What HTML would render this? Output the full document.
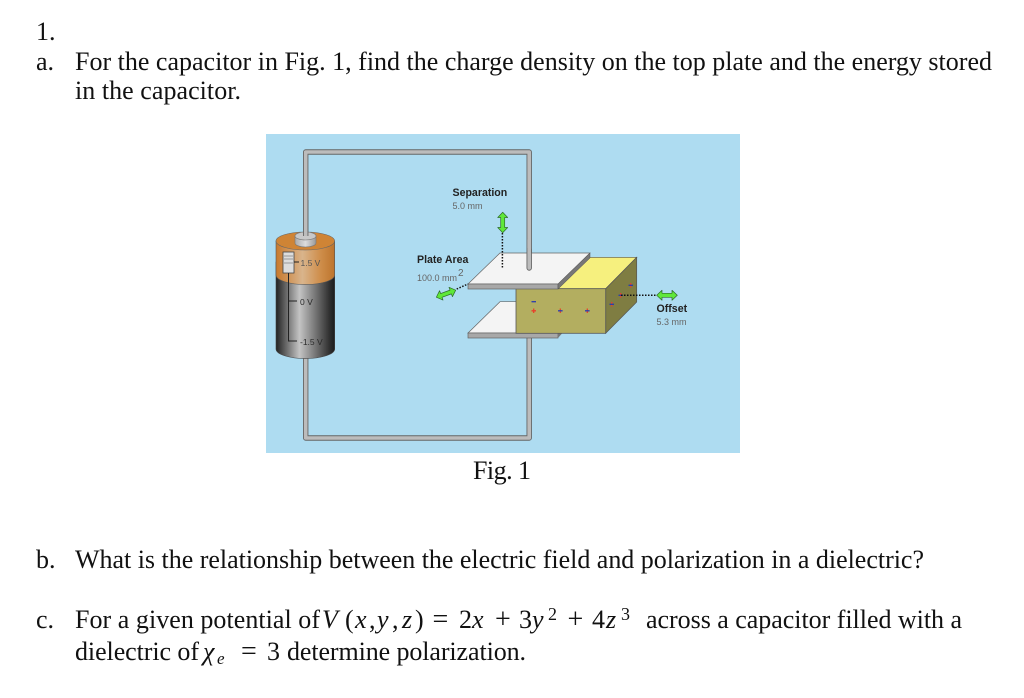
<!DOCTYPE html>
<html><head><meta charset="utf-8"><style>
html,body{margin:0;padding:0;background:#fff;width:1024px;height:698px;overflow:hidden}
svg{display:block}
.t{font-family:"Liberation Serif",serif;font-size:26px;fill:#111}
.m{font-family:"Liberation Serif",serif;font-size:26px;fill:#111;font-style:italic}
.b{font-family:"Liberation Sans",sans-serif;font-size:10.6px;font-weight:bold;fill:#222}
.s{font-family:"Liberation Sans",sans-serif;font-size:9px;fill:#666}
.v{font-family:"Liberation Sans",sans-serif;font-size:8.5px;fill:#555}
.k{font-family:"Liberation Sans",sans-serif;font-size:8.5px;fill:#2a2a2a}
</style></head><body>
<svg width="1024" height="698" viewBox="0 0 1024 698" xmlns="http://www.w3.org/2000/svg">
<defs>
<linearGradient id="o" x1="0" x2="1" y1="0" y2="0"><stop offset="0" stop-color="#c8792c"/><stop offset=".45" stop-color="#d9b48c"/><stop offset=".75" stop-color="#cf8f4c"/><stop offset="1" stop-color="#bd742c"/></linearGradient>
<linearGradient id="k" x1="0" x2="1" y1="0" y2="0"><stop offset="0" stop-color="#222"/><stop offset=".4" stop-color="#c4c4c4"/><stop offset=".9" stop-color="#333"/><stop offset="1" stop-color="#1c1c1c"/></linearGradient>
<linearGradient id="c" x1="0" x2="1" y1="0" y2="0"><stop offset="0" stop-color="#aaa"/><stop offset=".5" stop-color="#ddd"/><stop offset="1" stop-color="#999"/></linearGradient>
</defs>
<rect width="1024" height="698" fill="#fff"/>
<text class="t" x="36" y="40">1.</text>
<text class="t" x="36" y="70">a.</text>
<text class="t" x="75" y="70" textLength="917">For the capacitor in Fig. 1, find the charge density on the top plate and the energy stored</text>
<text class="t" x="75" y="99" textLength="166">in the capacitor.</text>

<rect x="266" y="134" width="474" height="319" fill="#aedcf1"/>

<!-- wires -->
<g fill="none" stroke-linejoin="round">
<path d="M305.7 238V152H529.2V268" stroke="#666" stroke-width="5.4" stroke-linecap="round"/>
<path d="M305.7 238V152H529.2V268" stroke="#bcbcbc" stroke-width="3.6" stroke-linecap="round"/>
<path d="M305.7 355V438H529.2V336" stroke="#666" stroke-width="5.4"/>
<path d="M305.7 355V438H529.2V336" stroke="#bcbcbc" stroke-width="3.6"/>
</g>

<!-- battery -->
<path d="M276 262V349A29.3 9.5 0 0 0 334.7 349V262Z" fill="url(#k)" stroke="#444" stroke-width=".6"/>
<path d="M276 241V275A29.3 9.5 0 0 0 334.7 275V241Z" fill="url(#o)" stroke="#555" stroke-width=".6"/>
<ellipse cx="305.3" cy="241" rx="29.3" ry="9" fill="#cf8435" stroke="#666" stroke-width=".6"/>
<path d="M295 236V243A10.5 4 0 0 0 316 243V236Z" fill="url(#c)" stroke="#777" stroke-width=".6"/>
<ellipse cx="305.5" cy="236" rx="10.5" ry="4" fill="#c8c8c8" stroke="#777" stroke-width=".6"/>
<path d="M305.7 236V200" stroke="#666" stroke-width="5.4"/><path d="M305.7 236V200" stroke="#bcbcbc" stroke-width="3.6"/>
<rect x="283" y="252" width="11" height="21" fill="#ddd" stroke="#444" stroke-width=".8"/>
<path d="M284 256H293M284 259H293M284 263H293" stroke="#999" stroke-width="1"/>
<path d="M294 262H299M288.5 273V341H297M288.5 301H297" fill="none" stroke="#222" stroke-width="1"/>
<text class="v" x="300.5" y="266">1.5 V</text>
<text class="k" x="300" y="305">0 V</text>
<text class="k" x="300" y="345">-1.5 V</text>

<!-- bottom plate -->
<path d="M468 333L500 301.7H590L558 333Z" fill="#f4f4f4" stroke="#666" stroke-width=".7"/>
<rect x="468" y="333" width="90" height="5" fill="#a8a8a8" stroke="#666" stroke-width=".7"/>
<path d="M558 338L562 333.5H558Z" fill="#777"/>

<!-- dielectric -->
<path d="M558 288.7L590 257.3H636.7L605.7 288.7Z" fill="#f6f07e" stroke="#555" stroke-width=".7"/>
<path d="M605.7 288.7L636.7 257.3V302L605.7 333.3Z" fill="#7f7d42" stroke="#555" stroke-width=".7"/>
<rect x="516" y="288.7" width="89.7" height="44.6" fill="#b3ae60" stroke="#555" stroke-width=".8"/>

<!-- top plate -->
<path d="M468 284L500 253H590L558 284Z" fill="#f4f4f4" stroke="#666" stroke-width=".7"/>
<rect x="468" y="284" width="90" height="5" fill="#a8a8a8" stroke="#666" stroke-width=".7"/>
<path d="M558 284L590 253V258L558 289Z" fill="#777" stroke="#555" stroke-width=".5"/>
<path d="M529.2 250V268" stroke="#666" stroke-width="5.4" stroke-linecap="round"/>
<path d="M529.2 240V268" stroke="#bcbcbc" stroke-width="3.6" stroke-linecap="round"/>

<!-- charges -->
<g stroke-width="1.3" fill="none">
<path d="M531.5 301.7H536" stroke="#2a3bb0"/>
<path d="M531.5 310.8H536M533.7 308.5V313" stroke="#e8402a"/>
<path d="M560.3 308.5V313" stroke="#e8402a"/><path d="M558 310.8H562.6" stroke="#2a3bb0"/>
<path d="M587.3 308.5V313" stroke="#e8402a"/><path d="M585 310.8H589.6" stroke="#2a3bb0"/>
<path d="M611.7 302V306.5" stroke="#e8402a"/><path d="M609.5 304.3H614" stroke="#2a3bb0"/>
<path d="M620.7 293V297.5" stroke="#e8402a"/><path d="M618.5 295.3H623" stroke="#2a3bb0"/>
<path d="M630.7 283V287.5" stroke="#e8402a"/><path d="M628.5 285.3H633" stroke="#2a3bb0"/>
</g>

<!-- dotted guides -->
<g fill="none" stroke="#111" stroke-width="1.5" stroke-dasharray="1.5 1.5">
<path d="M502.4 233V268"/>
<path d="M456.7 289L468 284"/>
<path d="M621 295.3H657"/>
</g>

<!-- arrows -->
<g fill="#5fe83a" stroke="#2d6b2a" stroke-width=".7" stroke-linejoin="round">
<path transform="translate(502.7 222.5) rotate(90)" d="M-10.3 0L-5 -5V-2H5V-5L10.3 0L5 5V2H-5V5Z"/>
<path transform="translate(667 295.3)" d="M-10.3 0L-5 -5V-2H5V-5L10.3 0L5 5V2H-5V5Z"/>
<path transform="translate(446 293.7) rotate(-20)" d="M-10.3 0L-5 -5V-2H5V-5L10.3 0L5 5V2H-5V5Z"/>
</g>

<text class="b" x="452.5" y="196">Separation</text>
<text class="s" x="452.5" y="209">5.0 mm</text>
<text class="b" x="417" y="263">Plate Area</text>
<text class="s" x="417" y="281">100.0 mm</text>
<text class="s" x="458" y="276" style="font-size:10px">2</text>
<text class="b" x="656.5" y="312">Offset</text>
<text class="s" x="656.5" y="325">5.3 mm</text>

<text class="t" x="473" y="479" textLength="58">Fig. 1</text>

<text class="t" x="36" y="568">b.</text>
<text class="t" x="75" y="568" textLength="849">What is the relationship between the electric field and polarization in a dielectric?</text>

<text class="t" x="36" y="628">c.</text>
<text class="t" x="75" y="628" textLength="245">For a given potential of</text>
<text class="m" x="322" y="628">V</text>
<text class="t" x="345" y="628">(</text>
<text class="m" x="355" y="628">x</text>
<text class="t" x="369" y="628">,</text>
<text class="m" x="377" y="628">y</text>
<text class="t" x="392" y="628">,</text>
<text class="m" x="402" y="628">z</text>
<text class="t" x="415" y="628">)</text>
<text class="t" x="432.5" y="628" style="font-size:28px">=</text>
<text class="t" x="459" y="628">2</text>
<text class="m" x="472" y="628">x</text>
<text class="t" x="495" y="628" style="font-size:28px">+</text>
<text class="t" x="519" y="628">3</text>
<text class="m" x="532" y="628">y</text>
<text class="t" x="548" y="620" style="font-size:18px">2</text>
<text class="t" x="567.5" y="628" style="font-size:28px">+</text>
<text class="t" x="592" y="628">4</text>
<text class="m" x="606" y="628">z</text>
<text class="t" x="621" y="620" style="font-size:18px">3</text>
<text class="t" x="646" y="628" textLength="316">across a capacitor filled with a</text>

<text class="t" x="75" y="660" textLength="124">dielectric of</text>
<text class="m" x="203" y="660">χ</text>
<text class="m" x="217" y="664" style="font-size:17px">e</text>
<text class="t" x="241" y="660" style="font-size:28px">=</text>
<text class="t" x="267" y="660">3</text>
<text class="t" x="287" y="660" textLength="239">determine polarization.</text>
</svg>
</body></html>
